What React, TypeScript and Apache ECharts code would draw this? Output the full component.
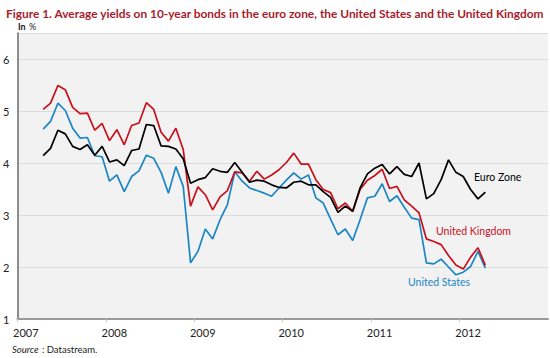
import React, { useEffect, useRef } from "react";
import * as echarts from "echarts";

// Monthly averages, April 2007 to April 2012
const firstMonth = 3; // April 2007, counted in months from January 2007
const euroZone = [
  4.14, 4.28, 4.63, 4.56, 4.32, 4.26, 4.35, 4.15, 4.32, 4.02, 4.06, 3.95, 4.24, 4.27, 4.74, 4.72, 4.33, 4.32, 4.27, 4.08,
  3.61, 3.68, 3.72, 3.89, 3.84, 3.82, 4.01, 3.82, 3.63, 3.67, 3.65, 3.58, 3.53, 3.52, 3.63, 3.65, 3.58, 3.58, 3.45, 3.34,
  3.05, 3.17, 3.07, 3.52, 3.79, 3.90, 3.97, 3.79, 3.93, 3.78, 3.74, 4.00, 3.31, 3.41, 3.68, 4.06, 3.82, 3.74, 3.49, 3.31,
  3.44,
];
const unitedKingdom = [
  5.03, 5.15, 5.49, 5.41, 5.07, 4.95, 4.96, 4.63, 4.76, 4.43, 4.64, 4.35, 4.72, 4.77, 5.16, 5.03, 4.59, 4.42, 4.67, 4.26,
  3.17, 3.54, 3.39, 3.10, 3.35, 3.47, 3.83, 3.81, 3.65, 3.84, 3.69, 3.77, 3.87, 4.01, 4.19, 3.98, 3.98, 3.68, 3.49, 3.43,
  3.12, 3.23, 3.07, 3.49, 3.67, 3.76, 3.88, 3.51, 3.55, 3.29, 3.17, 3.04, 2.54, 2.49, 2.43, 2.22, 2.04, 1.96, 2.19, 2.37,
  2.03,
];
const unitedStates = [
  4.65, 4.80, 5.15, 5.01, 4.67, 4.48, 4.49, 4.14, 4.12, 3.65, 3.77, 3.45, 3.74, 3.85, 4.15, 4.09, 3.82, 3.42, 3.93, 3.55,
  2.08, 2.30, 2.73, 2.54, 2.91, 3.20, 3.83, 3.65, 3.52, 3.47, 3.42, 3.36, 3.52, 3.67, 3.81, 3.69, 3.77, 3.33, 3.23, 2.92,
  2.62, 2.73, 2.51, 2.91, 3.33, 3.36, 3.60, 3.26, 3.37, 3.15, 2.94, 2.91, 2.08, 2.06, 2.15, 2.00, 1.85, 1.90, 2.01, 2.30,
  1.98,
];
const yearLabels = ["2007", "2008", "2009", "2010", "2011", "2012"];
const seriesNames = ["Euro Zone", "United Kingdom", "United States"];

const FONT = "Lato, 'Open Sans', sans-serif";
const RED = "#c8101c";
const BLUE = "#1a86c6";
const BLACK = "#000000";

function toPoints(values: number[]) {
  // x in months since Jan 2007, plotted mid-month
  return values.map((v, i) => [firstMonth + i + 0.5, v]);
}

export default function App() {
  const ref = useRef<HTMLDivElement>(null);
  useEffect(() => {
    if (!ref.current) return;
    const chart = echarts.init(ref.current, undefined, { renderer: "svg" });
    chart.setOption({
      animation: false,
      grid: {
        left: 15,
        right: 2,
        top: 33,
        bottom: 39,
        show: true,
        backgroundColor: "#f2f2f2",
        borderWidth: 0,
      },
      title: {
        text: "Figure 1. Average yields on 10-year bonds in the euro zone, the United States and the United Kingdom",
        left: 1,
        top: 2,
        textStyle: { fontFamily: FONT, fontSize: 11.9, fontWeight: "bold", color: "#a81c2c" },
      },
      xAxis: {
        type: "value",
        min: 0,
        max: 72,
        interval: 12,
        axisLine: { show: true, lineStyle: { color: "#9a9a9a", width: 2 } },
        axisTick: { show: true, length: 3, lineStyle: { color: "#cccccc" } },
        splitLine: { show: false },
        axisLabel: {
          formatter: (v: number) => (v % 12 === 0 && yearLabels[v / 12] ? yearLabels[v / 12] : ""),
          fontFamily: FONT,
          fontSize: 11,
          color: "#222",
          margin: 8,
          padding: [0, 0, 0, 17],
          showMaxLabel: false,
        },
      },
      yAxis: {
        type: "value",
        min: 1,
        max: 6.5,
        interval: 1,
        axisLine: { show: true, lineStyle: { color: "#6a6a6a", width: 1.5 } },
        axisTick: { show: false },
        splitLine: { show: true, lineStyle: { color: "#dcdcdc", width: 1 } },
        axisLabel: {
          formatter: (v: number) => (Number.isInteger(v) ? String(v) : ""),
          fontFamily: FONT,
          fontSize: 11,
          color: "#222",
          margin: 8,
          padding: [0, 0, 5, 0],
          showMaxLabel: false,
        },
      },
      series: [
        {
          name: seriesNames[0],
          type: "line",
          data: toPoints(euroZone),
          symbol: "none",
          lineStyle: { color: BLACK, width: 1.7 },
          z: 3,
        },
        {
          name: seriesNames[1],
          type: "line",
          data: toPoints(unitedKingdom),
          symbol: "none",
          lineStyle: { color: RED, width: 1.7 },
          z: 2,
        },
        {
          name: seriesNames[2],
          type: "line",
          data: toPoints(unitedStates),
          symbol: "none",
          lineStyle: { color: BLUE, width: 1.7 },
          z: 1,
        },
      ],
      graphic: [
        {
          type: "text",
          left: 18,
          top: 20,
          style: {
            text: "{b|In} {r|%}",
            rich: {
              b: { fontFamily: FONT, fontSize: 9, fontWeight: "bold", fill: "#222" },
              r: { fontFamily: FONT, fontSize: 9, fill: "#222" },
            },
          },
        },
        {
          type: "text",
          left: 12,
          top: 343,
          style: {
            text: "{i|Source} {n|: Datastream.}",
            rich: {
              i: { fontFamily: FONT, fontSize: 9.5, fontStyle: "italic", fill: "#222" },
              n: { fontFamily: FONT, fontSize: 9.5, fill: "#222" },
            },
          },
        },
        {
          type: "text",
          left: 474,
          top: 171,
          style: { text: seriesNames[0], fontFamily: FONT, fontSize: 10.5, fill: BLACK },
        },
        {
          type: "text",
          left: 436,
          top: 225,
          style: { text: seriesNames[1], fontFamily: FONT, fontSize: 10.5, fill: RED },
        },
        {
          type: "text",
          left: 408,
          top: 276,
          style: { text: seriesNames[2], fontFamily: FONT, fontSize: 10.5, fill: BLUE },
        },
      ],
    });
    return () => chart.dispose();
  }, []);
  return <div ref={ref} style={{ width: 550, height: 358, position: "absolute", left: 0, top: 0 }} />;
}
